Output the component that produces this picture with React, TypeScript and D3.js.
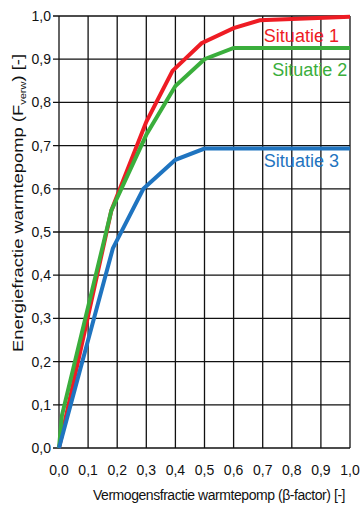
import React from 'react';
import * as d3 from 'd3';

// beta-factor (x) vs energy fraction (y) per situation
const situatie1X = [0, 0.18, 0.3, 0.39, 0.49, 0.6, 0.69, 1.0];
const situatie1Y = [0, 0.55, 0.755, 0.873, 0.937, 0.972, 0.99, 0.998];
const situatie2X = [0, 0.01, 0.18, 0.3, 0.4, 0.5, 0.6, 1.0];
const situatie2Y = [0, 0.075, 0.55, 0.725, 0.838, 0.9, 0.926, 0.926];
const situatie3X = [0, 0.185, 0.29, 0.4, 0.5, 1.0];
const situatie3Y = [0, 0.462, 0.6, 0.667, 0.693, 0.693];

const seriesNames = ['Situatie 1', 'Situatie 2', 'Situatie 3'];
const ticks = [0, 0.1, 0.2, 0.3, 0.4, 0.5, 0.6, 0.7, 0.8, 0.9, 1.0];

const colors = ['#ee1c24', '#3aae3c', '#1f74c0'];
// label anchor in data space (left x, baseline y)
const labelPos = [
  [0.704, 0.94],
  [0.733, 0.86],
  [0.704, 0.65],
];

const fmt = (v: number) => v.toFixed(1).replace('.', ',');

export default function App() {
  const width = 360;
  const height = 510;
  const x = d3.scaleLinear().domain([0, 1]).range([59, 350]);
  const y = d3.scaleLinear().domain([0, 1]).range([448, 16]);

  const line = d3
    .line<[number, number]>()
    .x((d) => x(d[0]))
    .y((d) => y(d[1]));

  const series = [
    situatie1X.map((v, i) => [v, situatie1Y[i]] as [number, number]),
    situatie2X.map((v, i) => [v, situatie2Y[i]] as [number, number]),
    situatie3X.map((v, i) => [v, situatie3Y[i]] as [number, number]),
  ];

  const narrow = '"Liberation Sans Narrow", "Arial Narrow", "Liberation Sans", Arial, sans-serif';
  const sans = '"Liberation Sans", Arial, sans-serif';

  return (
    <svg
      width={width}
      height={height}
      style={{ position: 'absolute', left: 0, top: 0, background: '#fff' }}
    >
      {/* grid */}
      <g stroke="#111" strokeWidth={1.3}>
        {ticks.map((t) => (
          <line key={'v' + t} x1={x(t)} x2={x(t)} y1={y(1)} y2={y(0)} />
        ))}
        {ticks.map((t) => (
          <line key={'h' + t} x1={x(0) - 6} x2={x(1)} y1={y(t)} y2={y(t)} />
        ))}
      </g>

      {/* tick labels */}
      <g fontFamily={narrow} fontSize={14} fill="#111">
        {ticks.map((t) => (
          <text key={'yl' + t} x={x(0) - 8} y={y(t)} dy="0.35em" textAnchor="end">
            {fmt(t)}
          </text>
        ))}
        {ticks.map((t) => (
          <text key={'xl' + t} x={x(t)} y={y(0) + 27} textAnchor="middle">
            {fmt(t)}
          </text>
        ))}
      </g>

      {/* series */}
      {series.map((s, i) => (
        <path
          key={seriesNames[i]}
          d={line(s) || ''}
          fill="none"
          stroke={colors[i]}
          strokeWidth={4}
        />
      ))}

      {/* series labels */}
      {seriesNames.map((n, i) => (
        <text
          key={'lbl' + n}
          x={x(labelPos[i][0])}
          y={y(labelPos[i][1])}
          fill={colors[i]}
          fontFamily={sans}
          fontSize={18}
        >
          {n}
        </text>
      ))}

      {/* axis titles */}
      <text
        x={219}
        y={y(0) + 52}
        textAnchor="middle"
        fontFamily={narrow}
        fontSize={14}
        letterSpacing={-0.45}
        fill="#111"
      >
        Vermogensfractie warmtepomp (β-factor) [-]
      </text>
      <text
        transform={`translate(23, 203) rotate(-90)`}
        textAnchor="middle"
        fontFamily={narrow}
        fontSize={15}
        fill="#111"
        textLength={298}
        lengthAdjust="spacingAndGlyphs"
      >
        Energiefractie warmtepomp (F
        <tspan fontSize={9} dy={3}>verw</tspan>
        <tspan dy={-3}>) [-]</tspan>
      </text>
    </svg>
  );
}
